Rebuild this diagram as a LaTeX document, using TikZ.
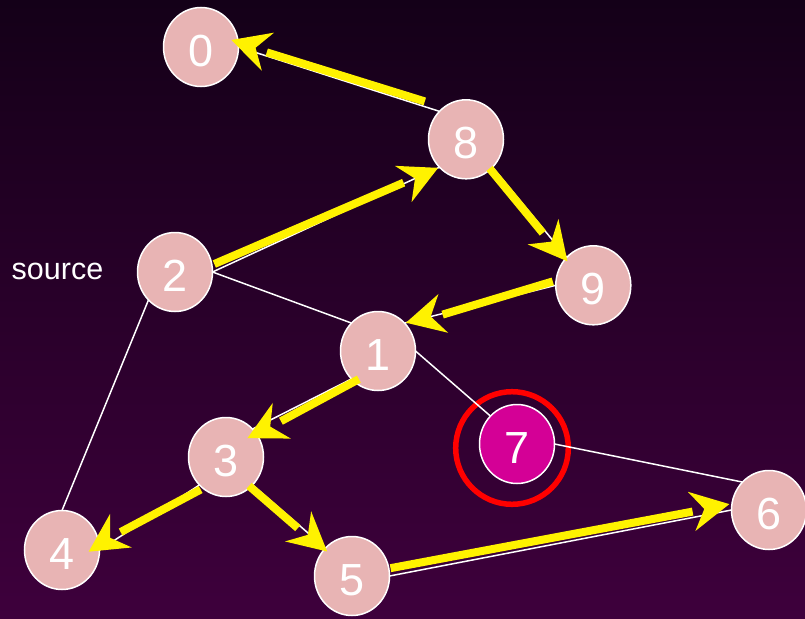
\documentclass[tikz,border=0pt]{standalone}
\usepackage{fontspec}
\setmainfont{Liberation Sans}
\usetikzlibrary{calc,shapes.geometric}

\definecolor{bgtop}{RGB}{20,0,24}
\definecolor{bgbot}{RGB}{62,0,60}
\definecolor{nodepink}{RGB}{232,180,180}
\definecolor{hotmag}{RGB}{212,0,150}

\pgfdeclarelayer{back}
\pgfsetlayers{back,main}

\tikzset{
  vertex/.style={ellipse, draw=white, line width=1.5pt, fill=nodepink,
    minimum width=75pt, minimum height=79pt, inner sep=0pt, outer sep=0pt,
    text=white, font=\fontsize{45}{45}\selectfont,
    text height=39.2pt, text depth=0pt},
  current/.style={vertex, fill=hotmag},
  edge/.style={draw=white, line width=1.5pt},
  shaft/.style={draw=yellow, line width=8pt, line cap=butt},
  head/.style={fill=yellow},
  ring/.style={circle, draw=red, line width=5.5pt, minimum size=112.6pt,
    inner sep=0pt, outer sep=0pt},
  caption/.style={text=white, font=\fontsize{30.5}{30.5}\selectfont,
    inner sep=0pt},
}

% Tree edge: thick shaft beside the graph edge plus a barbed head.
% #1 from anchor, #2 to anchor, #3 shaft start along the edge,
% #4 shaft start offset, #5 shaft end offset, #6 tip set-back from #2,
% #7 head offset (offsets measured to the left of the travel direction)
\newcommand\treearrow[7]{%
  \draw[shaft] ($(#1)!{veclen(#3pt,#4pt)}!{atan2(#4,#3)}:(#2)$)
    -- ($(#2)!{veclen(#6pt+37.5pt,#5pt)}!{-atan2(#5,#6+37.5)}:(#1)$);
  \coordinate (tip) at ($(#2)!{veclen(#6pt,#7pt)}!{-atan2(#7,#6)}:(#1)$);
  \coordinate (back) at ($(#1)!{veclen(50pt,#7pt)}!{atan2(#7,50)}:(#2)$);
  \fill[head] (tip)
    -- ($(tip)!{veclen(38.5pt,20pt)}!{atan2(20,38.5)}:(back)$)
    -- ($(tip)!25.5pt!(back)$)
    -- ($(tip)!{veclen(38.5pt,20pt)}!{-atan2(20,38.5)}:(back)$)
    -- cycle;
}

\begin{document}
\begin{tikzpicture}[x=1pt,y=-1pt]
\useasboundingbox (0,0) rectangle (805,618);

% vertices
\node[vertex]  (n0) at (201,47)    {0};
\node[vertex]  (n8) at (466,139.3) {8};
\node[vertex]  (n2) at (175,272)   {2};
\node[vertex]  (n9) at (593.3,285.3) {9};
\node[vertex]  (n1) at (378,351)   {1};
\node[current] (n7) at (517,444)   {7};
\node[vertex]  (n3) at (226,457)   {3};
\node[vertex]  (n6) at (769,510)   {6};
\node[vertex]  (n4) at (62,550)    {4};
\node[vertex]  (n5) at (352,576)   {5};

\node[caption, anchor=base west] (src) at (11.5,279.5) {source};

\begin{pgfonlayer}{back}
  \shade[top color=bgtop, bottom color=bgbot] (0,0) rectangle (805,618);
  \node[ring] (hl) at (512,448) {};
  % graph edges
  \draw[edge] (n8.north west) -- (n0.east);
  \draw[edge] (n2.east) -- (n8.south west);
  \draw[edge] (n8.south east) -- (n9.north west);
  \draw[edge] (n9.west) -- (n1.north east);
  \draw[edge] (n2.east) -- (n1.north west);
  \draw[edge] (n2.south west) -- (n4.north);
  \draw[edge] (n1.east) -- (n7.north west);
  \draw[edge] (n7.east) -- (n6.north west);
  \draw[edge] (n1.south west) -- (n3.north east);
  \draw[edge] (n3.south west) -- (n4.east);
  \draw[edge] (n3.south east) -- (n5.north west);
  \draw[edge] (n5.east) -- (n6.west);
\end{pgfonlayer}

% search tree
\treearrow{n8.north west}{n0.east}{17}{-5}{-3.5}{-9}{-4.5}
\treearrow{n2.east}{n8.south west}{5}{6.5}{1}{1.5}{0}
\treearrow{n8.south east}{n9.north west}{-1}{-3}{-3}{-3.5}{-2}
\treearrow{n9.west}{n1.north east}{2}{-4.5}{1}{1.5}{0}
\treearrow{n1.south west}{n3.north east}{-6.5}{3.5}{5.8}{-8.6}{5.8}
\treearrow{n3.south west}{n4.east}{1.5}{4.5}{-3.5}{-10}{-4.5}
\treearrow{n3.south east}{n5.north west}{-2}{-3}{-3}{-3.5}{-1.5}
\treearrow{n5.east}{n6.west}{2.5}{7.5}{5.8}{1}{6.2}
\end{tikzpicture}
\end{document}
